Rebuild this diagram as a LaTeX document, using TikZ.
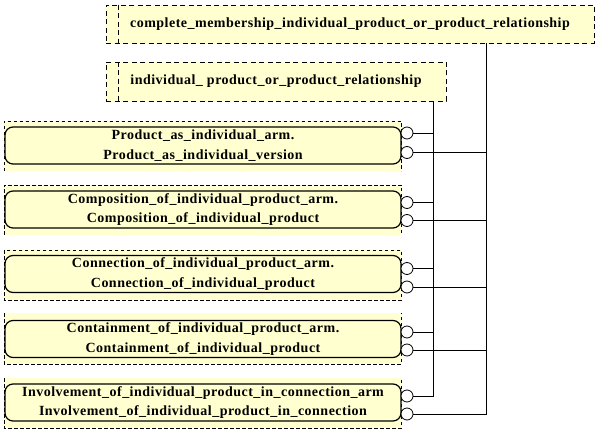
\documentclass[tikz,border=0pt]{standalone}
\usepackage{fontspec}
\setmainfont{Liberation Serif}[LetterSpace=3.5]
\definecolor{yel}{RGB}{255,255,208}
\begin{document}
\begin{tikzpicture}[x=1pt,y=-1pt,
  lbl/.style={font=\fontsize{14}{19.5}\selectfont\bfseries},
  selbox/.style={draw, fill=yel, line width=0.9pt, dash pattern=on 5pt off 3.5pt, inner sep=0pt, lbl},
  seldiv/.style={line width=0.9pt, dash pattern=on 5pt off 3.5pt},
  grpedge/.style={line width=0.8pt, dash pattern=on 3.5pt off 2.5pt},
  entbox/.style={draw, fill=yel, line width=1.2pt, rounded corners=8pt, minimum width=396pt, minimum height=37pt, inner sep=0pt, align=center, lbl},
  port/.style={circle, draw, fill=white, line width=0.8pt, minimum size=12pt, inner sep=0pt},
  conn/.style={line width=0.9pt}]
\useasboundingbox (0,0) rectangle (601,435);
% select boxes
\node[selbox, minimum width=488pt, minimum height=38pt] (s1) at (350,24) {complete\_membership\_individual\_product\_or\_product\_relationship};
\draw[seldiv] ([xshift=13pt]s1.north west) -- ([xshift=13pt]s1.south west);
\node[selbox, minimum width=340pt, minimum height=39pt] (s2) at (276,81.5) {individual\_ product\_or\_product\_relationship};
\draw[seldiv] ([xshift=13pt]s2.north west) -- ([xshift=13pt]s2.south west);
% group backgrounds
\fill[yel] (4,121) rectangle (401,171.5);
\fill[yel] (4,185) rectangle (401,235);
\fill[yel] (4,250) rectangle (401,300);
\fill[yel] (4,313) rectangle (401,364);
\fill[yel] (4,378) rectangle (401,428);
% group dashed edges
\draw[grpedge] (4,171.5) -- (4,121) -- (401,121) -- (401,171.5);
\draw[grpedge] (4,235) -- (4,185) -- (401,185) -- (401,235);
\draw[grpedge] (4,250) rectangle (401,300);
\draw[grpedge] (4,313) -- (4,364) -- (401,364) -- (401,313);
\draw[grpedge] (4,378) -- (4,428) -- (401,428) -- (401,378);
% entities
\node[entbox] (e1) at (203,145.5) {Product\_as\_individual\_arm.\\Product\_as\_individual\_version};
\node[entbox] (e2) at (203,209.5) {Composition\_of\_individual\_product\_arm.\\Composition\_of\_individual\_product};
\node[entbox] (e3) at (203,274) {Connection\_of\_individual\_product\_arm.\\Connection\_of\_individual\_product};
\node[entbox] (e4) at (203,339) {Containment\_of\_individual\_product\_arm.\\Containment\_of\_individual\_product};
\node[entbox] (e5) at (203,402.5) {Involvement\_of\_individual\_product\_in\_connection\_arm\\Involvement\_of\_individual\_product\_in\_connection};
% ports
\node[port] (p1a) at (407,133) {};
\node[port] (p1b) at (407,152.5) {};
\node[port] (p2a) at (407,202.5) {};
\node[port] (p2b) at (407,220.5) {};
\node[port] (p3a) at (407,268.5) {};
\node[port] (p3b) at (407,287) {};
\node[port] (p4a) at (407,332) {};
\node[port] (p4b) at (407,350) {};
\node[port] (p5a) at (407,396) {};
\node[port] (p5b) at (407,414) {};
% bus coordinates
\coordinate (b1) at (433.5,0);
\coordinate (b2) at (486,0);
% buses
\draw[conn] (s2.south -| b1) |- (p5a.east);
\draw[conn] (s1.south -| b2) |- (p5b.east);
\foreach \n in {1,2,3,4}{
  \draw[conn] (p\n a.east) -- (p\n a.east -| b1);
  \draw[conn] (p\n b.east) -- (p\n b.east -| b2);
}
\end{tikzpicture}
\end{document}
